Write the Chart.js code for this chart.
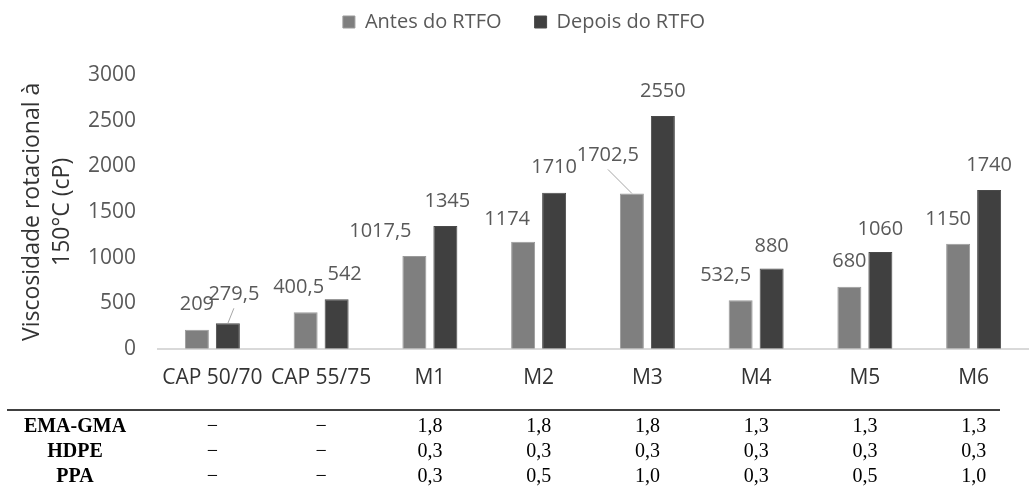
<!DOCTYPE html>
<html lang="pt">
<head>
    <meta charset="UTF-8">
    <title>Viscosidade rotacional a 150°C</title>
    <style>
        body, html {
            margin: 0;
            padding: 0;
            background: #ffffff;
        }
        .chart-container {
            position: relative;
            width: 1030px;
            height: 488px;
        }
    </style>
</head>
<body>
    <div class="chart-container">
        <canvas id="chart1"></canvas>
    </div>

    <script src="https://cdn.jsdelivr.net/npm/chart.js"></script>
    <script>
        // dados
        var categorias = ['CAP 50/70', 'CAP 55/75', 'M1', 'M2', 'M3', 'M4', 'M5', 'M6'];
        var antesRTFO = [209, 400.5, 1017.5, 1174, 1702.5, 532.5, 680, 1150];
        var depoisRTFO = [279.5, 542, 1345, 1710, 2550, 880, 1060, 1740];
        var ticksY = [0, 500, 1000, 1500, 2000, 2500, 3000];

        // tabela de composição (null = sem aditivo)
        var linhasTabela = ['EMA-GMA', 'HDPE', 'PPA'];
        var emaGma = [null, null, 1.8, 1.8, 1.8, 1.3, 1.3, 1.3];
        var hdpe = [null, null, 0.3, 0.3, 0.3, 0.3, 0.3, 0.3];
        var ppa = [null, null, 0.3, 0.5, 1.0, 0.3, 0.5, 1.0];
        var valoresTabela = [emaGma, hdpe, ppa];

        // ajustes finos dos rótulos (pixels), como foram movidos no original
        var deslocX = [[0, -7, -34, -16, -24, -15, 0, -10], [6, 8, 2, 0, 0, 0, 0, 0]];
        var deslocY = [[0, 0, 0, 3, -13, 0, 0, 0], [-4, 0, 0, 0, 0, 3, 2, 0]];
        var linhasGuia = [[1, 0], [0, 4]];

        function formatar(v) {
            return String(v).replace('.', ',');
        }

        var rotulosPlugin = {
            id: 'rotulos',
            afterDatasetsDraw: function(chart) {
                var ctx = chart.ctx;
                ctx.save();
                ctx.font = '20px "Open Sans"';
                ctx.fillStyle = '#595959';
                ctx.textAlign = 'center';
                ctx.textBaseline = 'middle';
                chart.data.datasets.forEach(function(ds, d) {
                    var meta = chart.getDatasetMeta(d);
                    meta.data.forEach(function(bar, i) {
                        var x = bar.x + deslocX[d][i];
                        var y = bar.y - 25 + deslocY[d][i];
                        ctx.fillText(formatar(ds.data[i]), x, y);
                    });
                });
                ctx.strokeStyle = '#a6a6a6';
                ctx.lineWidth = 1;
                linhasGuia.forEach(function(g) {
                    var bar = chart.getDatasetMeta(g[0]).data[g[1]];
                    var lx = bar.x + deslocX[g[0]][g[1]];
                    var ly = bar.y - 25 + deslocY[g[0]][g[1]];
                    ctx.beginPath();
                    ctx.moveTo(bar.x, bar.y);
                    ctx.lineTo(lx, ly + 14);
                    ctx.stroke();
                });
                ctx.restore();
            }
        };

        var tabelaPlugin = {
            id: 'tabela',
            afterDraw: function(chart) {
                var ctx = chart.ctx;
                var xs = chart.scales.x;
                ctx.save();
                ctx.strokeStyle = '#000000';
                ctx.lineWidth = 1.5;
                ctx.beginPath();
                ctx.moveTo(7, 410);
                ctx.lineTo(1000, 410);
                ctx.stroke();
                ctx.fillStyle = '#000000';
                ctx.textAlign = 'center';
                ctx.textBaseline = 'middle';
                linhasTabela.forEach(function(nome, r) {
                    var y = 427 + r * 25;
                    ctx.font = 'bold 20px "Liberation Serif"';
                    ctx.fillText(nome, 75, y);
                    ctx.font = '20px "Liberation Serif"';
                    valoresTabela[r].forEach(function(v, i) {
                        var txt = v === null ? '−' : v.toFixed(1).replace('.', ',');
                        ctx.fillText(txt, xs.getPixelForValue(i), y);
                    });
                });
                ctx.restore();
            }
        };

        var legendaPlugin = {
            id: 'legendaAltura',
            beforeInit: function(chart) {
                var fitOriginal = chart.legend.fit;
                chart.legend.fit = function() {
                    fitOriginal.bind(chart.legend)();
                    this.height += 33;
                };
            },
            afterLayout: function(chart) {
                // no original a legenda fica um pouco à direita do centro
                chart.legend.left += 10;
                chart.legend.right += 10;
            }
        };

        window.onload = function() {
            var ctx1 = document.getElementById('chart1').getContext('2d');
            var chart1 = new Chart(ctx1, {
                type: 'bar',
                data: {
                    labels: categorias,
                    datasets: [{
                        label: 'Antes do RTFO',
                        data: antesRTFO,
                        backgroundColor: '#7f7f7f',
                        borderColor: '#9a9a9a',
                        borderWidth: 1,
                        categoryPercentage: 0.57,
                        barPercentage: 0.774
                    }, {
                        label: 'Depois do RTFO',
                        data: depoisRTFO,
                        backgroundColor: '#404040',
                        borderColor: '#4a4a4a',
                        borderWidth: 1,
                        categoryPercentage: 0.57,
                        barPercentage: 0.774
                    }]
                },
                options: {
                    responsive: true,
                    maintainAspectRatio: false,
                    animation: false,
                    layout: {
                        padding: { top: -21, bottom: 80, left: 0, right: 2 }
                    },
                    plugins: {
                        tooltip: { enabled: false },
                        legend: {
                            position: 'top',
                            labels: {
                                boxWidth: 12,
                                boxHeight: 12,
                                padding: 33,
                                color: '#595959',
                                font: { family: '"Open Sans"', size: 20 }
                            }
                        }
                    },
                    scales: {
                        x: {
                            grid: { display: false, drawTicks: false },
                            border: { display: true, color: '#d9d9d9', width: 2 },
                            ticks: {
                                padding: 17,
                                color: '#333333',
                                font: { family: '"Open Sans"', size: 21 }
                            }
                        },
                        y: {
                            min: 0,
                            max: 3000,
                            afterBuildTicks: function(scale) {
                                scale.ticks = ticksY.map(function(v) { return { value: v }; });
                            },
                            afterFit: function(scale) {
                                scale.width = 158;
                            },
                            grid: { display: false, drawTicks: false },
                            border: { display: false },
                            ticks: {
                                padding: 22,
                                color: '#595959',
                                font: { family: '"Open Sans"', size: 21 },
                                callback: function(v) { return String(v); }
                            },
                            title: {
                                display: true,
                                text: ['Viscosidade rotacional à', '150°C (cP)'],
                                color: '#333333',
                                font: { family: '"Open Sans"', size: 23, lineHeight: 1.3 },
                                padding: { top: 18, bottom: 0 }
                            }
                        }
                    }
                },
                plugins: [legendaPlugin, rotulosPlugin, tabelaPlugin]
            });
        };
    </script>
</body>
</html>
